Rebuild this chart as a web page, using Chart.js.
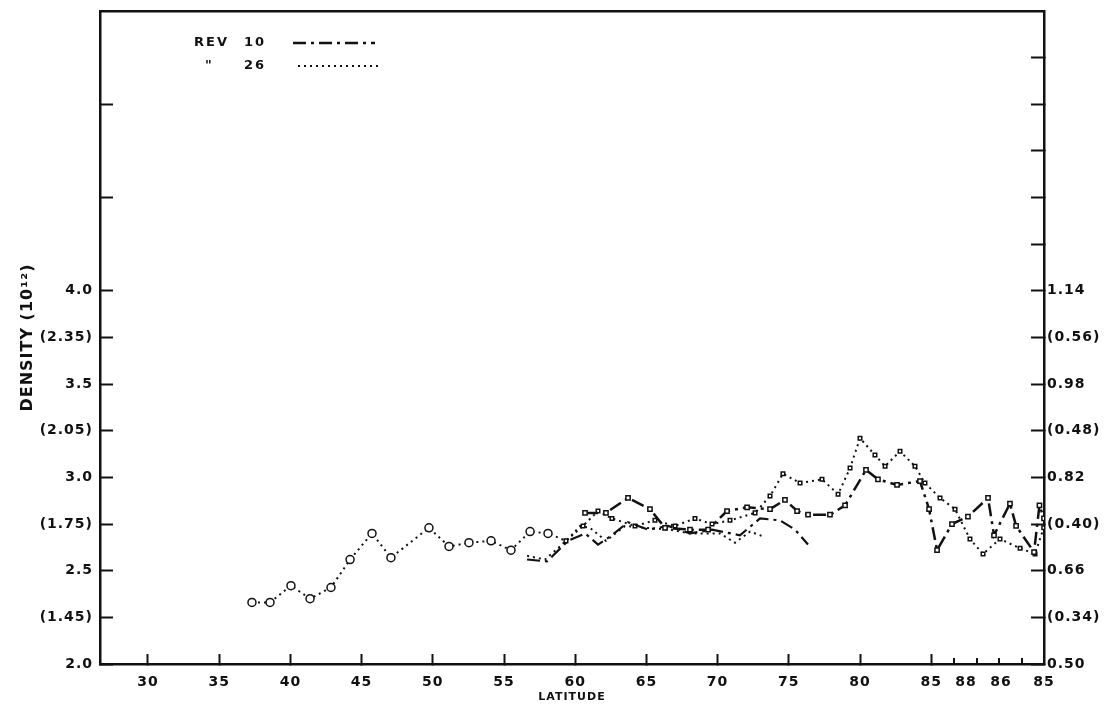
<!DOCTYPE html>
<html>
<head>
<meta charset="utf-8">
<script src="https://cdn.jsdelivr.net/npm/chart.js@4.4.1/dist/chart.umd.min.js"></script>
<style>
  html, body { margin: 0; padding: 0; background: #fff; }
  #wrap { width: 1113px; height: 714px; }
</style>
</head>
<body>
<div id="wrap"><canvas id="c" width="1113" height="714"></canvas></div>
<script>
// Along-track latitude: the pass climbs to 85 deg, goes over the pole region and back down.
const LAT_MIN = 26.63;
const LAT_MAX = 92.92;
const latTicks = [30, 35, 40, 45, 50, 55, 60, 65, 70, 75, 80, 85];
const poleLabelPositions = [87.44, 89.9, 92.92];
const poleTickLabels = ['88', '86', '85'];
const poleMarkPositions = [86.59, 88.18, 89.77, 91.35];

// Left density scale and the bracketed companion scale
const leftTickValues = [2.0, 2.25, 2.5, 2.75, 3.0, 3.25, 3.5, 3.75, 4.0, 4.5, 5.0];
const leftTickLabels = ['2.0', '(1.45)', '2.5', '(1.75)', '3.0', '(2.05)', '3.5', '(2.35)', '4.0', '', ''];
const rightTickValues = [2.0, 2.25, 2.5, 2.75, 3.0, 3.25, 3.5, 3.75, 4.0, 4.25, 4.5, 4.75, 5.0, 5.25];
const rightTickLabels = ['0.50', '(0.34)', '0.66', '(0.40)', '0.82', '(0.48)', '0.98', '(0.56)', '1.14', '', '', '', '', ''];

// REV 26, main trace (open circles at low latitude)
const rev26Lat = [37.30, 38.57, 40.04, 41.38, 42.85, 44.19, 45.73, 47.06, 49.73, 51.14, 52.54, 54.09, 55.49, 56.83, 58.09,
  59.35, 60.55, 61.60, 62.58, 64.20, 65.60, 67.01, 68.41, 69.61, 70.87, 72.63, 73.68, 74.59, 75.79, 77.33, 78.46,
  79.30, 80.00, 81.05, 81.76, 82.81, 83.86, 84.56, 85.62, 86.67, 87.72, 88.64, 89.83, 91.24, 92.29, 92.90];
const rev26Density = [2.33, 2.33, 2.42, 2.35, 2.41, 2.56, 2.70, 2.57, 2.73, 2.63, 2.65, 2.66, 2.61, 2.71, 2.70,
  2.66, 2.74, 2.82, 2.78, 2.74, 2.77, 2.74, 2.78, 2.75, 2.77, 2.81, 2.90, 3.02, 2.97, 2.99, 2.91,
  3.05, 3.21, 3.12, 3.06, 3.14, 3.06, 2.97, 2.89, 2.83, 2.67, 2.59, 2.67, 2.62, 2.59, 2.73];

// REV 26, lower trace
const rev26LowLat = [56.62, 57.88, 58.93, 59.63, 60.34, 61.04, 62.16, 63.50, 64.90, 66.66, 68.06, 70.17, 71.22, 72.28, 73.33];
const rev26LowDensity = [2.58, 2.56, 2.63, 2.68, 2.74, 2.73, 2.66, 2.74, 2.73, 2.72, 2.70, 2.70, 2.65, 2.71, 2.68];

// REV 10, main trace
const rev10Lat = [60.69, 62.16, 63.71, 65.25, 66.31, 68.06, 69.33, 70.66, 72.07, 73.68, 74.73, 75.58, 76.35, 77.89, 78.95,
  80.42, 81.26, 82.60, 84.21, 84.85, 85.41, 86.46, 87.58, 88.99, 89.41, 90.53, 90.96, 92.22, 92.60, 92.92];
const rev10Density = [2.81, 2.81, 2.89, 2.83, 2.73, 2.72, 2.72, 2.82, 2.84, 2.83, 2.88, 2.82, 2.80, 2.80, 2.85,
  3.04, 2.99, 2.96, 2.98, 2.83, 2.61, 2.75, 2.79, 2.89, 2.69, 2.86, 2.74, 2.60, 2.85, 2.78];

// REV 10, lower trace
const rev10LowLat = [56.62, 58.02, 59.49, 60.70, 61.60, 62.58, 63.71, 65.11, 66.52, 68.06, 69.61, 71.57, 72.98, 74.38, 75.44, 76.35];
const rev10LowDensity = [2.56, 2.55, 2.66, 2.70, 2.64, 2.69, 2.76, 2.72, 2.74, 2.70, 2.72, 2.69, 2.78, 2.77, 2.72, 2.64];

const INK = '#111';
const FONT = "'DejaVu Sans', sans-serif";
const DASH_DOT = [13, 5, 3, 5];
const DOTTED = [2, 4];

const pts = (xs, ys) => xs.map((x, i) => ({ x: x, y: ys[i] }));

// Stencil-style lettering is widely spaced
const lettering = {
  id: 'lettering',
  beforeDraw(chart) { chart.ctx.letterSpacing = '1px'; },
  afterDraw(chart) { chart.ctx.letterSpacing = '0px'; }
};

// Short inward ticks along the polar stretch of the latitude axis
const poleTickMarks = {
  id: 'poleTickMarks',
  afterDraw(chart) {
    const { ctx, chartArea, scales } = chart;
    ctx.save();
    ctx.strokeStyle = INK;
    ctx.lineWidth = 2;
    poleMarkPositions.forEach(v => {
      const px = Math.round(scales.x.getPixelForValue(v));
      ctx.beginPath();
      ctx.moveTo(px, chartArea.bottom);
      ctx.lineTo(px, chartArea.bottom - 6);
      ctx.stroke();
    });
    ctx.restore();
  }
};

// Key in the upper-left corner: text followed by a line sample
const revKey = {
  id: 'revKey',
  afterDraw(chart) {
    const { ctx } = chart;
    const rows = [
      { name: 'REV', num: '10', ds: chart.data.datasets[0], y: 43, x0: 293, x1: 375 },
      { name: '"', num: '26', ds: chart.data.datasets[2], y: 66, x0: 298, x1: 378 }
    ];
    ctx.save();
    ctx.fillStyle = INK;
    ctx.font = 'bold 13px ' + FONT;
    ctx.letterSpacing = '2px';
    ctx.textBaseline = 'middle';
    ctx.textAlign = 'left';
    rows.forEach((r, i) => {
      ctx.fillText(r.name, i === 0 ? 194 : 205, r.y);
      ctx.fillText(r.num, 244, r.y);
      ctx.strokeStyle = INK;
      ctx.lineWidth = r.ds.borderWidth;
      ctx.setLineDash(r.ds.borderDash);
      ctx.beginPath();
      ctx.moveTo(r.x0, r.y);
      ctx.lineTo(r.x1, r.y);
      ctx.stroke();
    });
    ctx.restore();
  }
};

// Vertical scales: no extra room reserved above/below the end labels
const noEndPadding = s => { s.paddingTop = 0; s.paddingBottom = 0; };

new Chart(document.getElementById('c'), {
  type: 'line',
  data: {
    datasets: [
      {
        label: 'REV 10',
        data: pts(rev10Lat, rev10Density),
        borderColor: INK, borderWidth: 2.5, borderDash: DASH_DOT,
        pointStyle: 'rect', pointRadius: 3, pointBorderWidth: 1.5,
        pointBorderColor: INK, pointBackgroundColor: '#fff',
        tension: 0, fill: false, yAxisID: 'y'
      },
      {
        label: 'REV 10 lower',
        data: pts(rev10LowLat, rev10LowDensity),
        borderColor: INK, borderWidth: 2.2, borderDash: DASH_DOT,
        pointRadius: 0, tension: 0, fill: false, yAxisID: 'y'
      },
      {
        label: 'REV 26',
        data: pts(rev26Lat, rev26Density),
        borderColor: INK, borderWidth: 2, borderDash: DOTTED,
        pointStyle: c => (c.raw && c.raw.x < 59) ? 'circle' : 'rect',
        pointRadius: c => (c.raw && c.raw.x < 59) ? 4 : 2.5,
        pointBorderWidth: 1.5, pointBorderColor: INK, pointBackgroundColor: '#fff',
        tension: 0, fill: false, yAxisID: 'y'
      },
      {
        label: 'REV 26 lower',
        data: pts(rev26LowLat, rev26LowDensity),
        borderColor: INK, borderWidth: 2, borderDash: DOTTED,
        pointRadius: 0, tension: 0, fill: false, yAxisID: 'y'
      }
    ]
  },
  options: {
    responsive: false,
    animation: false,
    devicePixelRatio: 1,
    layout: { padding: 0 },
    plugins: { legend: { display: false }, tooltip: { enabled: false } },
    scales: {
      x: {
        type: 'linear', position: 'bottom', min: LAT_MIN, max: LAT_MAX,
        afterBuildTicks: s => { s.ticks = latTicks.concat(poleLabelPositions).map(v => ({ value: v })); },
        afterFit: s => { s.height = 50; },
        ticks: {
          autoSkip: false, maxRotation: 0, padding: 20, color: INK,
          font: { family: FONT, size: 14, weight: 'bold' },
          callback: (v, i) => i < latTicks.length ? String(latTicks[i]) : poleTickLabels[i - latTicks.length]
        },
        grid: {
          drawOnChartArea: false, tickLength: -10, tickWidth: 2,
          tickColor: c => (c.tick && c.tick.value > 85.5) ? 'rgba(0,0,0,0)' : INK
        },
        border: { display: true, color: INK, width: 2.5 },
        title: {
          display: true, text: 'LATITUDE', color: INK,
          font: { family: FONT, size: 11, weight: 'bold' }, padding: { top: 0, bottom: 10 }
        }
      },
      xTop: {
        type: 'linear', position: 'top', min: LAT_MIN, max: LAT_MAX,
        afterFit: s => { s.height = 11; },
        ticks: { display: false },
        grid: { display: false },
        border: { display: true, color: INK, width: 2.5 }
      },
      y: {
        type: 'linear', position: 'left', min: 2.0, max: 5.5,
        afterBuildTicks: s => { s.ticks = leftTickValues.map(v => ({ value: v })); },
        afterFit: s => { s.width = 100; noEndPadding(s); },
        ticks: {
          autoSkip: false, padding: 20, color: INK,
          font: { family: FONT, size: 14, weight: 'bold' },
          callback: (v, i) => leftTickLabels[i]
        },
        grid: { drawOnChartArea: false, tickLength: -13, tickWidth: 2, tickColor: INK },
        border: { display: true, color: INK, width: 2.5 },
        title: {
          display: true, text: 'DENSITY (10¹²)', color: INK,
          font: { family: FONT, size: 16, weight: 'bold' }, padding: { top: 18, bottom: 0 }
        }
      },
      y2: {
        type: 'linear', position: 'right', min: 2.0, max: 5.5,
        afterBuildTicks: s => { s.ticks = rightTickValues.map(v => ({ value: v })); },
        afterFit: s => { s.width = 69; noEndPadding(s); },
        ticks: {
          autoSkip: false, padding: 16, color: INK,
          font: { family: FONT, size: 14, weight: 'bold' },
          callback: (v, i) => rightTickLabels[i]
        },
        grid: { drawOnChartArea: false, tickLength: -13, tickWidth: 2, tickColor: INK },
        border: { display: true, color: INK, width: 2.5 }
      }
    }
  },
  plugins: [lettering, poleTickMarks, revKey]
});
</script>
</body>
</html>
